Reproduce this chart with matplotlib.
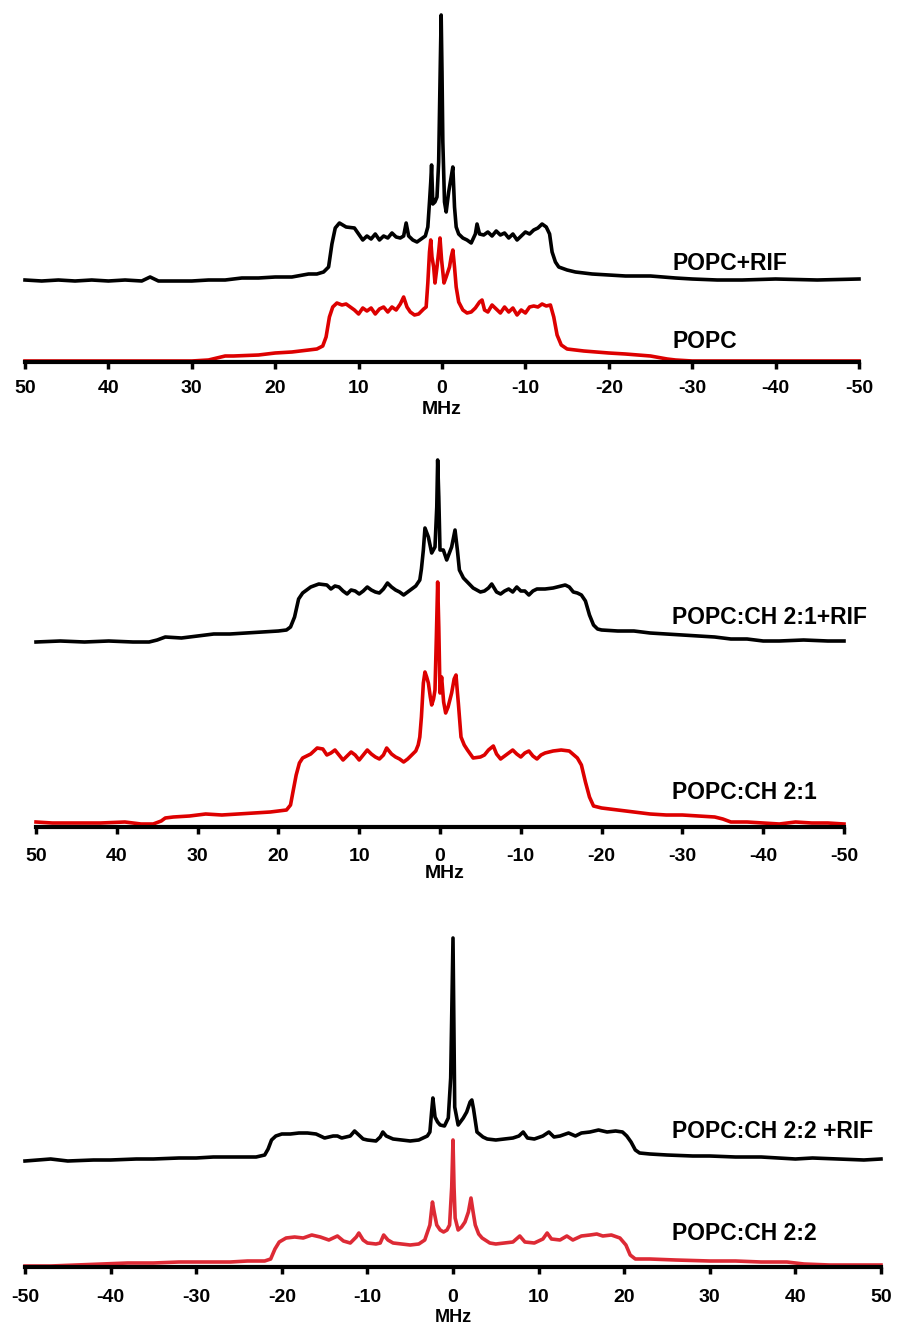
import matplotlib
matplotlib.use('Agg')
import matplotlib.pyplot as plt

plt.rcParams['font.family'] = ['Liberation Sans', 'DejaVu Sans']

# ---------------- data (frequency in MHz, intensity in arbitrary units) ----------------
# Panel 1: POPC+RIF (black) and POPC (red)
p1_black_x = [50, 48, 46, 44, 42, 40, 38, 36, 35, 34, 32, 30, 28, 26, 24, 22, 20, 18, 16, 15, 14.2, 13.6,
              13.2, 12.8, 12.3, 11.5, 10.5, 10, 9.5, 9, 8.5, 8, 7.5, 7, 6.5, 6, 5.5, 5, 4.6, 4.3, 4, 3.5,
              3, 2.5, 2, 1.7, 1.5, 1.35, 1.25, 1.1, 0.85, 0.6, 0.4, 0.2, 0.1, 0.0, -0.1, -0.3, -0.5, -0.8,
              -1.0, -1.3, -1.5, -1.7, -2.0, -2.5, -3, -3.5, -4, -4.2, -4.5, -5, -5.5, -6, -6.5, -7, -7.5,
              -8, -8.5, -9, -9.5, -10, -10.5, -11, -11.5, -12, -12.5, -12.9, -13.2, -13.6, -14, -15, -16,
              -18, -20, -22, -25, -28, -30, -33, -36, -40, -45, -50]
p1_black_y = [82, 81, 82, 81, 82, 81, 82, 81, 85, 81, 81, 81, 82, 82, 84, 84, 85, 85, 88, 88, 90, 95,
              118, 134, 139, 135, 134, 128, 122, 126, 123, 128, 122, 126, 124, 129, 125, 124, 126, 139, 126, 122,
              120, 123, 126, 135, 160, 180, 197, 158, 160, 165, 200, 300, 347, 290, 220, 160, 150, 170,
              180, 195, 155, 135, 128, 124, 122, 119, 128, 138, 128, 127, 130, 126, 131, 127, 129,
              124, 128, 122, 126, 130, 128, 132, 134, 138, 135, 128, 110, 100, 95, 92, 90,
              88, 87, 86, 86, 84, 83, 82, 82, 83, 82, 83]
p1_red_x = [50, 45, 40, 35, 30, 28, 27, 26, 25, 22, 20, 18, 16, 15, 14.3, 13.9, 13.5, 13.1, 12.6, 12,
            11.5, 11, 10.5, 10, 9.5, 9, 8.5, 8, 7.5, 7, 6.5, 6, 5.5, 5, 4.6, 4.2, 3.8, 3.3, 2.8, 2.2,
            1.9, 1.7, 1.5, 1.35, 1.2, 1.0, 0.84, 0.6, 0.4, 0.24, 0.05, -0.24, -0.5, -0.9, -1.1, -1.3,
            -1.5, -1.7, -2.0, -2.5, -3, -3.5, -4, -4.5, -4.8, -5.1, -5.5, -6, -6.5, -7, -7.5, -8, -8.5,
            -9, -9.5, -10, -10.5, -11, -11.5, -12, -12.5, -13, -13.4, -13.8, -14.3, -15, -17, -20, -22,
            -25, -27, -28, -30, -40, -45, -50]
p1_red_y = [1, 1, 1, 1, 1, 2, 4, 6, 6, 7, 9, 10, 12, 13, 16, 25, 45, 55, 59, 57,
            58, 55, 52, 48, 54, 51, 54, 48, 53, 55, 50, 55, 52, 58, 65, 55, 50, 47, 48, 53,
            55, 79, 110, 122, 105, 95, 79, 95, 110, 124, 102, 79, 85, 95, 105, 112,
            95, 75, 60, 52, 49, 50, 54, 60, 62, 52, 50, 57, 53, 49, 55, 50, 54,
            47, 52, 49, 55, 56, 55, 58, 56, 57, 45, 27, 17, 13, 11, 9, 8,
            6, 3, 2, 1, 1, 1, 1]

# Panel 2: POPC:CH 2:1+RIF (black) and POPC:CH 2:1 (red)
p2_black_x = [50, 47, 44, 41, 38, 36, 35, 34, 32, 30, 28, 26, 24, 22, 20, 19, 18.5, 18, 17.5, 17, 16,
              15, 14, 13.5, 13, 12.5, 12, 11.5, 11, 10.5, 10, 9.5, 9, 8.5, 8, 7.5, 7, 6.5, 6, 5.5, 5,
              4.5, 4, 3.5, 3, 2.5, 2.3, 2.06, 1.86, 1.44, 1.03, 0.62, 0.4, 0.29, 0.15, 0.0, -0.41,
              -0.83, -1.44, -1.86, -2.15, -2.4, -2.9, -4.1, -5, -5.5, -6, -6.4, -7, -7.5, -8, -8.5,
              -9, -9.5, -10, -10.5, -11, -11.5, -12, -13, -14, -15, -15.5, -16, -16.5, -17, -17.5,
              -18, -18.5, -19, -19.5, -20, -22, -24, -26, -28, -30, -32, -34, -36, -38, -40, -42,
              -45, -48, -50]
p2_black_y = [185, 186, 185, 186, 185, 185, 187, 190, 189, 191, 193, 193, 194, 195, 196, 197, 200, 210,
              228, 234, 240, 243, 242, 238, 241, 240, 236, 233, 237, 236, 233, 236, 240, 237, 235,
              234, 238, 244, 240, 237, 235, 232, 235, 238, 241, 247, 258, 277, 299, 290, 274, 280,
              320, 367, 330, 277, 277, 267, 280, 297, 277, 257, 249, 239, 235, 236, 239, 243, 235,
              233, 236, 238, 235, 240, 236, 236, 232, 236, 238, 238, 239, 241, 242, 240, 235, 234,
              232, 226, 212, 202, 198, 197, 196, 196, 194, 193, 192, 191, 190, 188, 188, 186, 186,
              187, 186, 186]
p2_red_x = [50, 48, 45, 42, 39, 37, 35.5, 34.5, 34, 33, 31, 29, 27, 25, 23, 21, 20, 19, 18.5, 18.2,
            17.8, 17.4, 17, 16, 15.2, 14.5, 14, 13.5, 13, 12.5, 12, 11.5, 11, 10.5, 10, 9.5, 9, 8.5,
            8, 7.5, 7, 6.6, 6, 5.5, 5, 4.5, 4, 3.5, 3, 2.7, 2.5, 2.3, 2.06, 1.86, 1.65, 1.44, 1.2,
            1.03, 0.8, 0.62, 0.45, 0.29, 0.15, 0.0, -0.2, -0.45, -0.7, -1.0, -1.44, -1.75, -1.98,
            -2.15, -2.27, -2.6, -3.0, -3.4, -4.1, -5, -5.5, -6, -6.6, -7, -7.5, -8, -8.5, -9, -9.5,
            -10, -10.5, -11, -11.5, -12, -12.5, -13, -14, -15, -16, -17, -17.5, -18, -18.5, -19, -20,
            -22, -24, -26, -28, -30, -32, -34, -35, -36, -38, -40, -42, -44, -46, -48, -50]
p2_red_y = [5, 4, 4, 4, 5, 3, 3, 6, 9, 10, 11, 13, 12, 13, 14, 15, 16, 17, 22, 35,
            52, 64, 69, 73, 79, 78, 72, 74, 77, 72, 67, 71, 75, 72, 67, 72, 77, 73,
            70, 68, 72, 79, 73, 70, 68, 65, 68, 72, 76, 82, 90, 110, 144, 155, 150, 144, 130,
            122, 128, 137, 190, 245, 200, 134, 150, 125, 114, 120, 134, 148, 152,
            135, 124, 90, 82, 77, 69, 70, 72, 77, 81, 73, 68, 71, 74, 77, 73,
            70, 74, 76, 71, 68, 72, 74, 76, 77, 76, 69, 62, 45, 30, 21, 19,
            17, 15, 13, 12, 12, 11, 10, 8, 5, 5, 4, 3, 5, 4, 4, 3]

# Panel 3: POPC:CH 2:2 +RIF (black) and POPC:CH 2:2 (red)
p3_black_x = [-50, -47, -45, -42, -40, -37, -35, -32, -30, -28, -25, -23, -22, -21.6, -21.2, -20.7, -20,
              -19, -18, -17, -16, -15, -14, -13.5, -13, -12, -11.5, -11, -10.5, -10, -9, -8.5, -8.2,
              -7.8, -7, -6, -5, -4, -3.5, -3, -2.7, -2.5, -2.35, -2.1, -1.8, -1.5, -1.0, -0.55, -0.27,
              0.0, 0.2, 0.6, 1.2, 1.6, 2.0, 2.2, 2.4, 2.8, 3.5, 4, 5, 6, 7, 7.7, 8.2, 8.7, 9.5, 10.5,
              11.2, 11.8, 12.5, 13.5, 14.3, 15, 16, 17, 18, 19, 19.8, 20.3, 20.8, 21.3, 21.8, 23, 25,
              28, 30, 33, 36, 38, 40, 42, 45, 48, 50]
p3_black_y = [106, 108, 106, 107, 107, 108, 108, 109, 109, 110, 110, 110, 112, 118, 127, 131, 133,
              133, 134, 134, 133, 129, 131, 131, 129, 131, 136, 132, 128, 127, 126, 130, 135,
              131, 128, 127, 126, 127, 129, 131, 135, 155, 169, 150, 145, 142, 141, 149, 189,
              329, 160, 142, 149, 155, 165, 167, 158, 135, 130, 128, 127, 128, 129, 131, 135, 129, 128, 131,
              135, 130, 131, 134, 131, 134, 135, 137, 135, 136, 135, 131, 125, 117, 114, 113, 112,
              111, 111, 110, 110, 109, 108, 109, 108, 107, 108]
p3_red_x = [-50, -47, -44, -41, -38, -35, -32, -29, -26, -24, -22, -21.3, -20.8, -20.3, -19.5, -18.5,
            -17.5, -16.5, -15.5, -14.5, -13.5, -12.8, -12, -11.3, -11, -10.5, -10, -9, -8.5, -8.1, -7.6,
            -7, -6, -5, -4, -3.3, -2.7, -2.4, -2.2, -1.9, -1.5, -1.1, -0.7, -0.4, -0.15, 0.0, 0.12,
            0.25, 0.6, 1.0, 1.4, 1.8, 2.1, 2.35, 2.6, 3.0, 3.4, 4.3, 5, 6, 7, 7.8, 8.4, 9.5, 10.5,
            11, 11.5, 12.5, 13.3, 14, 15, 16, 16.8, 17.5, 18.5, 19.5, 20.2, 20.7, 21.3, 23, 26, 30,
            33, 36, 39, 41, 44, 47, 50]
p3_red_y = [1, 1, 2, 3, 4, 4, 5, 5, 5, 6, 6, 8, 18, 25, 29, 30,
            29, 32, 30, 27, 31, 26, 24, 30, 34, 27, 24, 23, 24, 32, 27,
            24, 23, 22, 23, 27, 42, 65, 55, 42, 37, 35, 37, 42, 80, 127, 80,
            49, 37, 40, 45, 55, 69, 55, 42, 33, 29, 24, 23, 24, 25, 31, 25, 24, 28,
            34, 28, 27, 31, 27, 31, 32, 33, 31, 32, 29, 22, 12, 8, 8, 7, 6,
            6, 5, 5, 3, 2, 2, 2]

# Axis ticks and labels
ticks_desc = [50, 40, 30, 20, 10, 0, -10, -20, -30, -40, -50]
ticklabels_desc = ['50', '40', '30', '20', '10', '0', '-10', '-20', '-30', '-40', '-50']
ticks_asc = [-50, -40, -30, -20, -10, 0, 10, 20, 30, 40, 50]
ticklabels_asc = ['-50', '-40', '-30', '-20', '-10', '0', '10', '20', '30', '40', '50']
labels = ['POPC+RIF', 'POPC', 'POPC:CH 2:1+RIF', 'POPC:CH 2:1', 'POPC:CH 2:2 +RIF', 'POPC:CH 2:2']
xlabel = 'MHz'

# ---------------- figure ----------------
W, H = 898, 1325
fig = plt.figure(figsize=(W / 100, H / 100), dpi=100)
fig.patch.set_facecolor('white')


def make_axes(left, right, bottom, top):
    return fig.add_axes([left / W, 1 - bottom / H, (right - left) / W, (bottom - top) / H])


def style(ax, ticks, ticklabels, xlim, ymax, pad):
    ax.set_xlim(*xlim)
    ax.set_ylim(0, ymax)
    for s in ['left', 'top', 'right']:
        ax.spines[s].set_visible(False)
    ax.spines['bottom'].set_linewidth(3)
    ax.yaxis.set_visible(False)
    ax.set_xticks(ticks)
    ax.set_xticklabels(ticklabels, fontsize=14, fontweight='bold')
    ax.tick_params(axis='x', length=5, width=2.5, direction='out', pad=pad)
    ax.patch.set_alpha(0)


LW = 2.6
BLACK = '#000000'
RED12 = '#dd0000'
RED3 = '#dd2a35'

ax1 = make_axes(25, 859, 362, 10)
ax1.plot(p1_red_x, p1_red_y, color=RED12, lw=LW, clip_on=False, solid_joinstyle='round')
ax1.plot(p1_black_x, p1_black_y, color=BLACK, lw=LW, clip_on=False, solid_joinstyle='round')
style(ax1, ticks_desc, ticklabels_desc, (50, -50), 352, 8)

ax2 = make_axes(36, 844, 827, 455)
ax2.plot(p2_red_x, p2_red_y, color=RED12, lw=LW, clip_on=False, solid_joinstyle='round')
ax2.plot(p2_black_x, p2_black_y, color=BLACK, lw=LW, clip_on=False, solid_joinstyle='round')
style(ax2, ticks_desc, ticklabels_desc, (50, -50), 372, 10)

ax3 = make_axes(25, 881, 1267, 930)
ax3.plot(p3_red_x, p3_red_y, color=RED3, lw=LW, clip_on=False, solid_joinstyle='round')
ax3.plot(p3_black_x, p3_black_y, color=BLACK, lw=LW, clip_on=False, solid_joinstyle='round')
style(ax3, ticks_asc, ticklabels_asc, (-50, 50), 337, 11)

# sample labels
label_pos = [(672, 264), (672, 341), (672, 617), (672, 792), (672, 1131), (672, 1234)]
for txt, (px, py) in zip(labels, label_pos):
    fig.text(px / W, 1 - py / H, txt, ha='left', va='center', fontsize=16.5, fontweight='bold')

# x-axis titles
for (px, py, fs) in [(442, 410, 14), (445, 873, 14), (453, 1317, 13)]:
    fig.text(px / W, 1 - py / H, xlabel, ha='center', va='center', fontsize=fs, fontweight='bold')

fig.savefig('out.png', dpi=100, facecolor='white')
